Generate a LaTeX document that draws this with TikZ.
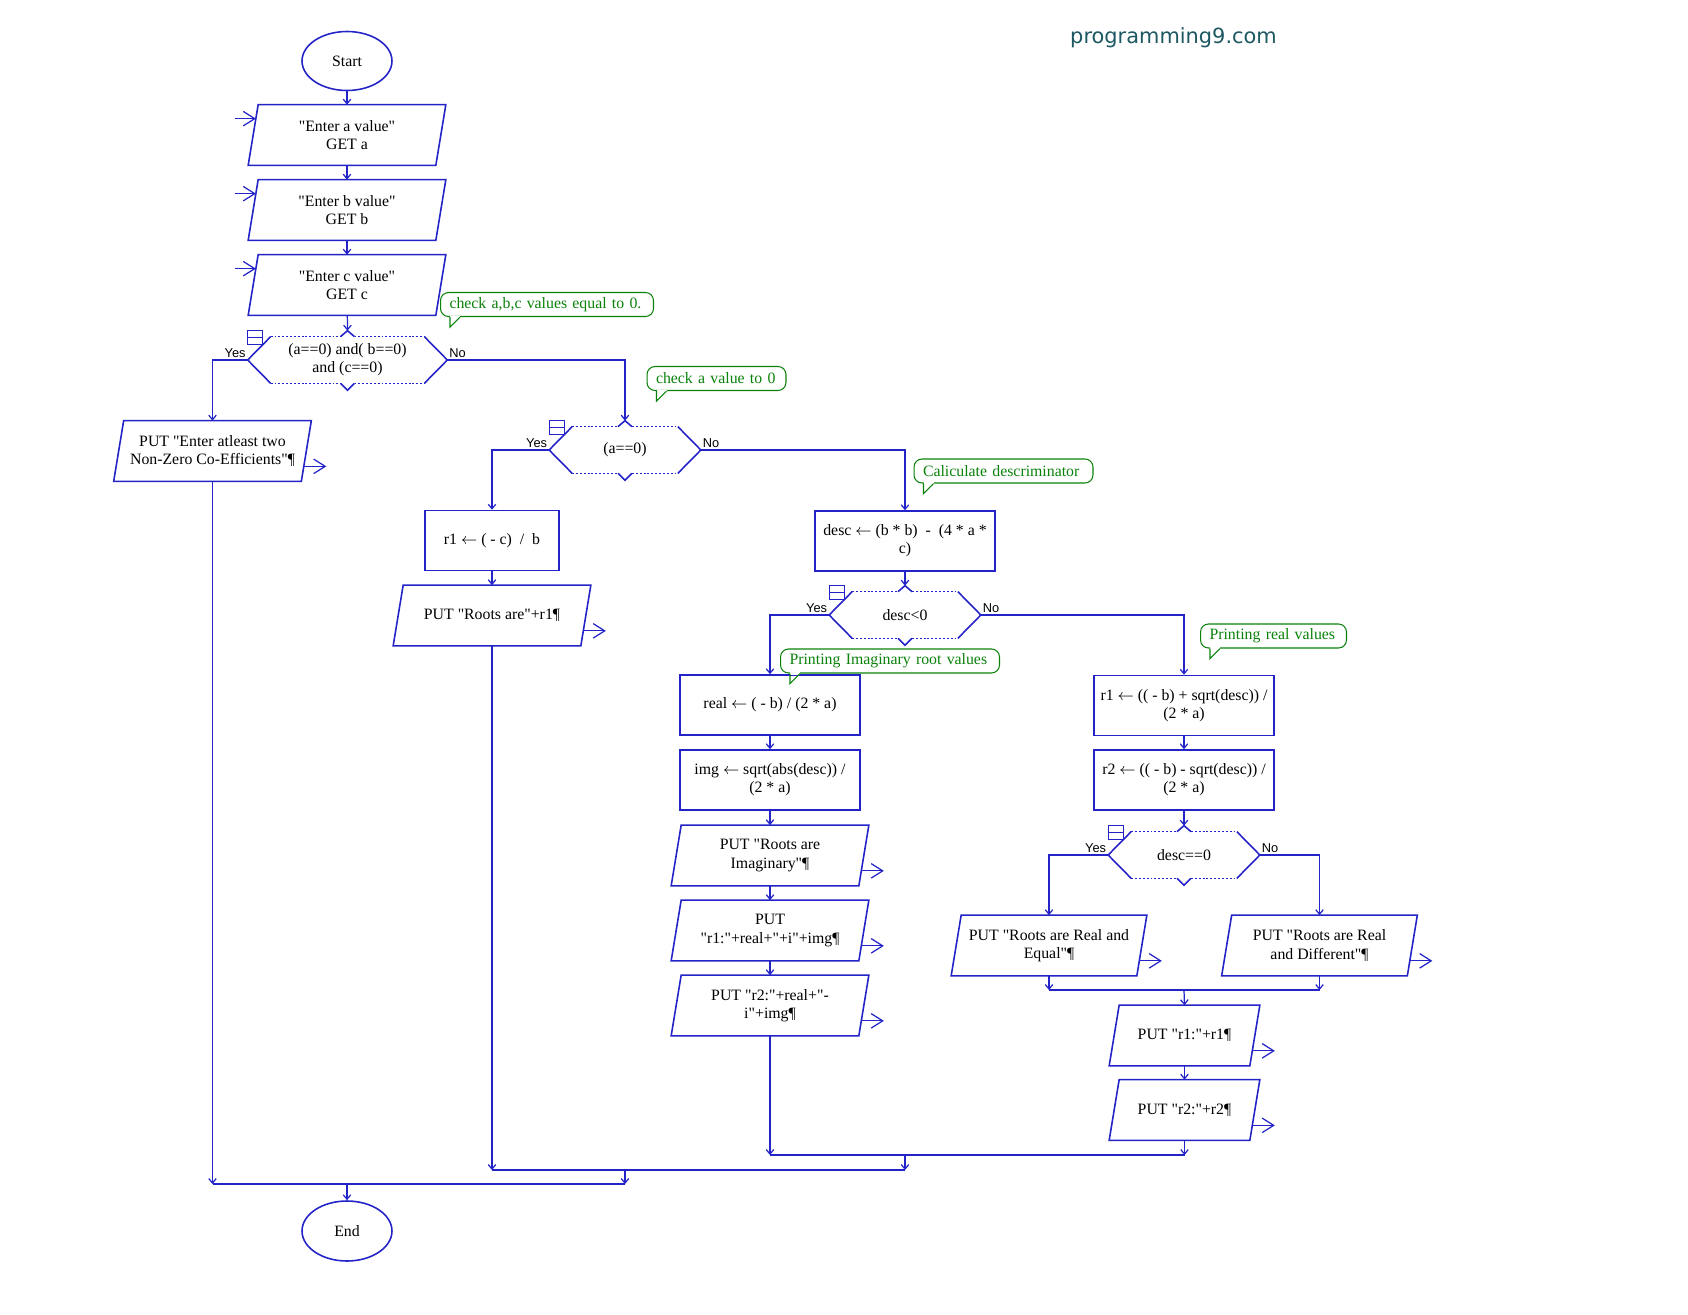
\documentclass[tikz,border=0pt]{standalone}
\usepackage{fontspec}
\setmainfont{Liberation Serif}[Ligatures=TeXOff]
\newfontfamily\jnfont{Liberation Sans}
\newfontfamily\wmfont{DejaVu Sans}
\usetikzlibrary{calc,arrows.meta,shapes.geometric}

\definecolor{fblau}{RGB}{35,35,200}
\definecolor{fgruen}{RGB}{10,130,10}
\definecolor{wmfarbe}{RGB}{30,88,98}

\newcommand{\zuw}{\ensuremath{\leftarrow}}

\tikzset{
    umriss/.style={draw=fblau,line width=0.9pt},
    punkte/.style={draw=fblau,line width=0.5pt,dash pattern=on 1.1pt off 1.1pt},
    linie/.style={draw=fblau,line width=0.7pt},
    fluss/.style={linie,-{Straight Barb[length=0.9mm,width=1.5mm]}},
    ioarrow/.style={linie,-{Straight Barb[length=2.3mm,width=2.9mm]}},
    txt/.style={font=\fontsize{9}{10.3}\selectfont,align=center,inner sep=1pt},
    terminal/.style={ellipse,umriss,txt,minimum width=1.8cm,minimum height=1.18cm},
    io/.style={rectangle,txt,minimum width=3.74cm,minimum height=1.2cm},
    proz/.style={rectangle,umriss,txt,minimum width=3.6cm,minimum height=1.2cm},
    ent/.style={rectangle,txt,minimum width=3.02cm,minimum height=0.92cm},
    notiz/.style={draw=fgruen,line width=0.6pt,rounded corners=0.16cm,text=fgruen,fill=white,
                  font=\fontsize{9}{10.3}\selectfont,align=left,anchor=west,
                  minimum height=0.48cm,inner xsep=0.18cm,inner ysep=1pt},
    jn/.style={font=\jnfont\fontsize{7.3}{8}\selectfont,inner sep=1pt}
}

\begin{document}
\begin{tikzpicture}[x=0.02cm,y=-0.02cm]
    \useasboundingbox (0,0) rectangle (1688,1315);

    % Wasserzeichen
    \node[font=\wmfont\fontsize{11.9}{14}\selectfont,text=wmfarbe,anchor=base] (wm) at (1173.5,43) {programming9.com};

    % Knoten
    \node[terminal] (start) at (347,61) {Start};
    \node[io] (ina) at (347,135) {"Enter a value"\\GET a};
    \node[io] (inb) at (347,210) {"Enter b value"\\GET b};
    \node[io] (inc) at (347,285) {"Enter c value"\\GET c};
    \node[ent,minimum width=3.98cm] (c1) at (347.5,360) {(a==0) and( b==0)\\and (c==0)};
    \node[io] (err) at (212.5,451) {PUT "Enter atleast two\\Non-Zero Co-Efficients"¶};
    \node[ent] (c2) at (625,450) {(a==0)};
    \node[proz,minimum width=2.68cm] (lin) at (492,540.5) {r1 \zuw{} ( - c)\ \ /\ \ b};
    \node[io] (outlin) at (492,615.5) {PUT "Roots are"+r1¶};
    \node[proz] (disc) at (905,541) {desc \zuw{} (b * b)\ \ -\ \ (4 * a *\\c)};
    \node[ent] (c3) at (905,615) {desc<0};
    \node[proz] (re) at (770,705) {real \zuw{} ( - b) / (2 * a)};
    \node[proz] (im) at (770,780) {img \zuw{} sqrt(abs(desc)) /\\(2 * a)};
    \node[io] (outim) at (770,855.5) {PUT "Roots are\\Imaginary"¶};
    \node[io] (outr1i) at (770,930.5) {PUT\\"r1:"+real+"+i"+img¶};
    \node[io] (outr2i) at (770,1005.5) {PUT "r2:"+real+"-\\i"+img¶};
    \node[proz] (r1) at (1184,705.5) {r1 \zuw{} (( - b) + sqrt(desc)) /\\(2 * a)};
    \node[proz] (r2) at (1184,780) {r2 \zuw{} (( - b) - sqrt(desc)) /\\(2 * a)};
    \node[ent] (c4) at (1184,855) {desc==0};
    \node[io,minimum width=3.7cm] (eq) at (1049,945.5) {PUT "Roots are Real and\\Equal"¶};
    \node[io,minimum width=3.7cm] (dif) at (1319.5,945.5) {PUT "Roots are Real\\and Different"¶};
    \node[io,minimum width=2.8cm] (outr1) at (1184.5,1035.5) {PUT "r1:"+r1¶};
    \node[io,minimum width=2.8cm] (outr2) at (1184.5,1110) {PUT "r2:"+r2¶};
    \node[terminal,minimum height=1.2cm] (end) at (347,1231) {End};

    % Parallelogramme, Ein- und Ausgabepfeile
    \foreach \n in {ina,inb,inc,err,outlin,outim,outr1i,outr2i,eq,dif,outr1,outr2} {
        \draw[umriss] ($(\n.north west)+(5,0)$) -- ($(\n.north east)+(5,0)$)
            -- ($(\n.south east)+(-5,0)$) -- ($(\n.south west)+(-5,0)$) -- cycle;
    }
    \foreach \n in {ina,inb,inc} {
        \draw[ioarrow] ($(\n.north west)+(-18,14)$) -- ($(\n.north west)+(2.7,14)$);
    }
    \foreach \n in {err,outlin,outim,outr1i,outr2i,eq,dif,outr1,outr2} {
        \draw[ioarrow] ($(\n.south east)+(-2.5,-15)$) -- ($(\n.south east)+(20,-15)$);
    }

    % Entscheidungen
    \foreach \n in {c1,c2,c3,c4} {
        \draw[umriss] ($(\n.north west)+(23,0)$) -- (\n.west) -- ($(\n.south west)+(23,0)$);
        \draw[umriss] ($(\n.north east)+(-23,0)$) -- (\n.east) -- ($(\n.south east)+(-23,0)$);
        \draw[umriss] ($(\n.north)+(-7,0)$) -- ($(\n.north)+(0,-6)$) -- ($(\n.north)+(7,0)$);
        \draw[umriss] ($(\n.south)+(-7,0)$) -- ($(\n.south)+(0,7)$) -- ($(\n.south)+(7,0)$);
        \draw[punkte] ($(\n.north west)+(23,0)$) -- ($(\n.north)+(-7,0)$);
        \draw[punkte] ($(\n.north)+(7,0)$) -- ($(\n.north east)+(-23,0)$);
        \draw[punkte] ($(\n.south west)+(23,0)$) -- ($(\n.south)+(-7,0)$);
        \draw[punkte] ($(\n.south)+(7,0)$) -- ($(\n.south east)+(-23,0)$);
        \draw[umriss,line width=0.7pt] ($(\n.north west)+(0,-6)$) rectangle ($(\n.north west)+(15,8)$);
        \draw[umriss,line width=0.7pt] ($(\n.north west)+(0,1)$) -- ($(\n.north west)+(15,1)$);
        \node[jn,anchor=south east] at (\n.west) {Yes};
        \node[jn,anchor=south west] at (\n.east) {No};
    }

    % Verbindungen
    \draw[fluss] (start) -- (ina);
    \draw[fluss] (ina) -- (inb);
    \draw[fluss] (inb) -- (inc);
    \draw[fluss] (inc) -- ($(c1.north)+(0,-6)$);
    \draw[fluss] (c1.west) -| (err.north);
    \draw[fluss] (c1.east) -| ($(c2.north)+(0,-6)$);
    \draw[fluss] (c2.west) -| (lin.north);
    \draw[fluss] (lin) -- (outlin);
    \draw[fluss] (c2.east) -| (disc.north);
    \draw[fluss] (disc) -- ($(c3.north)+(0,-6)$);
    \draw[fluss] (c3.west) -| (re.north);
    \draw[fluss] (re) -- (im);
    \draw[fluss] (im) -- (outim);
    \draw[fluss] (outim) -- (outr1i);
    \draw[fluss] (outr1i) -- (outr2i);
    \draw[fluss] (c3.east) -| (r1.north);
    \draw[fluss] (r1) -- (r2);
    \draw[fluss] (r2) -- ($(c4.north)+(0,-6)$);
    \draw[fluss] (c4.west) -| (eq.north);
    \draw[fluss] (c4.east) -| (dif.north);

    % Zusammenfuehrungen
    \coordinate (m4) at (1184,990);
    \coordinate (m3) at (905,1155);
    \coordinate (m2) at (625,1170);
    \coordinate (m1) at (347,1184);
    \draw[fluss] (eq.south) -- (eq.south |- m4);
    \draw[fluss] (dif.south) -- (dif.south |- m4);
    \draw[linie] (eq.south |- m4) -- (dif.south |- m4);
    \draw[fluss] (m4) -- (outr1.north);
    \draw[fluss] (outr1) -- (outr2);
    \draw[fluss] (outr2i.south) -- (outr2i.south |- m3);
    \draw[fluss] (outr2.south) -- (outr2.south |- m3);
    \draw[linie] (outr2i.south |- m3) -- (outr2.south |- m3);
    \draw[fluss] (outlin.south) -- (outlin.south |- m2);
    \draw[fluss] (m3) -- (m3 |- m2);
    \draw[linie] (outlin.south |- m2) -- (m3 |- m2);
    \draw[fluss] (err.south) -- (err.south |- m1);
    \draw[fluss] (m2) -- (m2 |- m1);
    \draw[linie] (err.south |- m1) -- (m2 |- m1);
    \draw[fluss] (m1) -- (end);

    % Kommentare
    \node[notiz,text width=3.9cm] (n1) at (440,304.5) {check a,b,c values equal to 0.};
    \node[notiz,text width=2.42cm] (n2) at (646.5,378.5) {check a value to 0};
    \node[notiz,text width=3.22cm] (n3) at (913.5,471) {Caliculate descriminator};
    \node[notiz,text width=4.02cm] (n4) at (780,661) {Printing Imaginary root values};
    \node[notiz,text width=2.56cm] (n5) at (1200,636) {Printing real values};
    \foreach \n in {n1,n2,n3,n4,n5} {
        \draw[white,line width=1.3pt] ($(\n.south west)+(10,0)$) -- ($(\n.south west)+(20,0)$);
        \draw[draw=fgruen,line width=0.6pt] ($(\n.south west)+(10,0)$) -- ($(\n.south west)+(10,10)$) -- ($(\n.south west)+(20,0)$);
    }
\end{tikzpicture}
\end{document}
